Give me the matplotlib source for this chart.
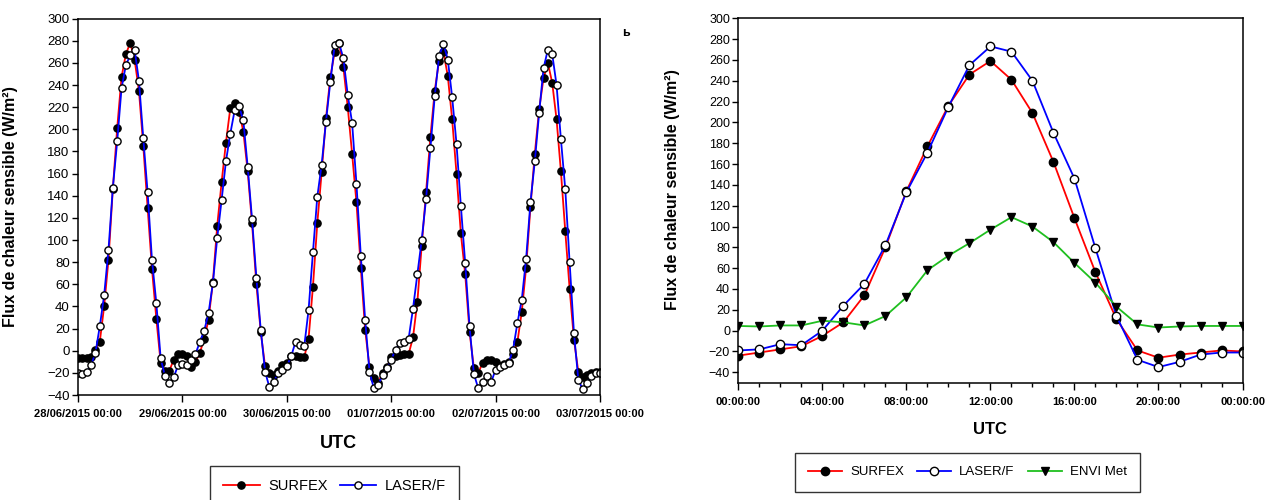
import matplotlib.pyplot as plt
import matplotlib.dates as mdates
import pandas as pd

plt.rcParams['font.family'] = ['Liberation Sans', 'DejaVu Sans']

# Flux de chaleur sensible horaire (W/m²), du 28/06/2015 00:00 au 03/07/2015 00:00
surfex_5j = [
    -7, -7, -7, -6, 1, 8, 40, 82, 146, 201, 247, 268, 278, 263, 235, 185, 129, 74, 29, -11, -18, -18, -8, -3,
    -3, -5, -15, -10, -2, 11, 28, 62, 113, 152, 188, 219, 224, 216, 198, 162, 115, 60, 17, -14, -20, -22, -18, -13,
    -11, -5, -5, -6, -6, 11, 58, 115, 161, 210, 247, 270, 278, 256, 220, 178, 134, 75, 19, -15, -25, -29, -20, -15,
    -6, -5, -4, -3, -3, 12, 44, 95, 143, 193, 235, 262, 270, 248, 209, 160, 106, 69, 17, -16, -20, -11, -8, -8,
    -10, -14, -12, -10, -3, 8, 35, 75, 130, 178, 218, 246, 260, 242, 209, 162, 108, 56, 10, -19, -24, -22, -20, -19, -19,
]
laser_5j = [
    -20, -21, -19, -13, -2, 22, 50, 91, 147, 189, 237, 258, 267, 272, 244, 192, 143, 82, 43, -7, -23, -29, -24, -13,
    -12, -13, -8, -3, 8, 18, 34, 61, 102, 136, 171, 196, 217, 221, 208, 166, 119, 66, 19, -19, -33, -28, -20, -17,
    -14, -5, 8, 5, 4, 37, 89, 139, 168, 207, 243, 276, 278, 264, 231, 206, 151, 86, 28, -19, -34, -31, -22, -16,
    -8, 1, 7, 8, 11, 38, 69, 100, 137, 183, 230, 266, 277, 263, 229, 187, 131, 79, 22, -21, -34, -28, -23, -28,
    -17, -15, -13, -11, 1, 25, 46, 83, 134, 171, 215, 255, 272, 268, 240, 191, 146, 80, 16, -26, -35, -29, -23, -20, -20,
]

# Journée moyenne, pas horaire de 00:00:00 à 00:00:00
surfex_jour = [-24, -21, -18, -15, -5, 8, 34, 80, 134, 177, 216, 246, 259, 241, 209, 162, 108, 56, 11, -19, -26, -23, -21, -19, -20]
laser_jour = [-19, -18, -13, -14, 0, 24, 45, 82, 133, 171, 215, 255, 273, 268, 240, 190, 146, 79, 14, -28, -35, -30, -23, -21, -21]
envimet_jour = [4.5, 4, 5, 5, 9.5, 8, 5, 14, 32, 58, 72, 84, 97, 109, 100, 85, 65, 46, 23, 6, 3, 4, 4.5, 4.5, 4.5]

rouge = '#ff0000'
bleu = '#0000ff'
vert = '#1fbf1f'


def style_axes(ax, taille_ticks, pad_x):
    for s in ax.spines.values():
        s.set_linewidth(1.1)
        s.set_color('black')
    ax.tick_params(axis='y', direction='out', length=4, width=1, labelsize=taille_ticks, pad=2)
    ax.tick_params(axis='x', which='major', direction='out', length=5, width=1, labelsize=8, pad=pad_x)
    for lab in ax.get_xticklabels():
        lab.set_fontweight('bold')


fig = plt.figure(figsize=(12.77, 5), dpi=100)

# Série de 5 jours
ax1 = fig.add_axes([0.0611, 0.21, 0.4088, 0.7528])
temps = pd.date_range('2015-06-28 00:00', periods=len(surfex_5j), freq='h')
ax1.plot(temps, surfex_5j, color=rouge, lw=1.3, marker='o', ms=5.2,
         mfc='black', mec='black', label='SURFEX')
ax1.plot(temps, laser_5j, color=bleu, lw=1.3, marker='o', ms=5.2,
         mfc='white', mec='black', mew=1, label='LASER/F')
ax1.set_xlim(temps[0], temps[-1])
ax1.set_ylim(-40, 300)
ax1.set_yticks(range(-40, 301, 20))
ax1.xaxis.set_major_locator(mdates.DayLocator())
ax1.xaxis.set_major_formatter(mdates.DateFormatter('%d/%m/%Y %H:%M'))
style_axes(ax1, 9.5, 5)
ax1.set_ylabel('Flux de chaleur sensible (W/m²)', fontsize=11.5, fontweight='bold')
ax1.yaxis.set_label_coords(-0.115, 0.5)
fig.text(338 / 1277, 1 - 443 / 500, 'UTC', fontsize=13, fontweight='bold', ha='center', va='center')
fig.legend(*ax1.get_legend_handles_labels(), loc='upper center', bbox_to_anchor=(0.262, 1 - 466 / 500),
           ncol=2, fontsize=10.5, handlelength=2.5, handletextpad=0.6, columnspacing=0.8,
           frameon=True, fancybox=False, edgecolor='black', borderpad=0.9, borderaxespad=0)
fig.text(626 / 1277, 1 - 33 / 500, 'ь', fontsize=9, fontweight='bold', ha='center', va='center')

# Journée type avec ENVI Met
ax2 = fig.add_axes([0.5782, 0.2346, 0.3948, 0.7288])
heures = pd.date_range('2015-07-01 00:00', periods=len(surfex_jour), freq='h')
ax2.plot(heures, surfex_jour, color=rouge, lw=1.3, marker='o', ms=6,
         mfc='black', mec='black', label='SURFEX')
ax2.plot(heures, laser_jour, color=bleu, lw=1.3, marker='o', ms=6,
         mfc='white', mec='black', mew=1, label='LASER/F')
ax2.plot(heures, envimet_jour, color=vert, lw=1.3, marker='v', ms=6,
         mfc='black', mec='black', label='ENVI Met')
ax2.set_xlim(heures[0], heures[-1])
ax2.set_ylim(-50, 300)
ax2.set_yticks(range(-40, 301, 20))
ax2.xaxis.set_major_locator(mdates.HourLocator(byhour=range(0, 24, 4)))
ax2.xaxis.set_minor_locator(mdates.HourLocator())
ax2.xaxis.set_major_formatter(mdates.DateFormatter('%H:%M:%S'))
style_axes(ax2, 9, 5.5)
ax2.tick_params(axis='x', which='minor', direction='out', length=3, width=1)
ax2.set_ylabel('Flux de chaleur sensible (W/m²)', fontsize=11.5, fontweight='bold')
ax2.yaxis.set_label_coords(-0.1156, 0.53)
fig.text(990 / 1277, 1 - 430 / 500, 'UTC', fontsize=12, fontweight='bold', ha='center', va='center')
fig.legend(*ax2.get_legend_handles_labels(), loc='upper center', bbox_to_anchor=(0.7576, 1 - 453 / 500),
           ncol=3, fontsize=9.5, handlelength=2.6, handletextpad=0.6, columnspacing=1.0,
           frameon=True, fancybox=False, edgecolor='black', borderpad=1.0, borderaxespad=0)

fig.savefig('out.png', dpi=100)
